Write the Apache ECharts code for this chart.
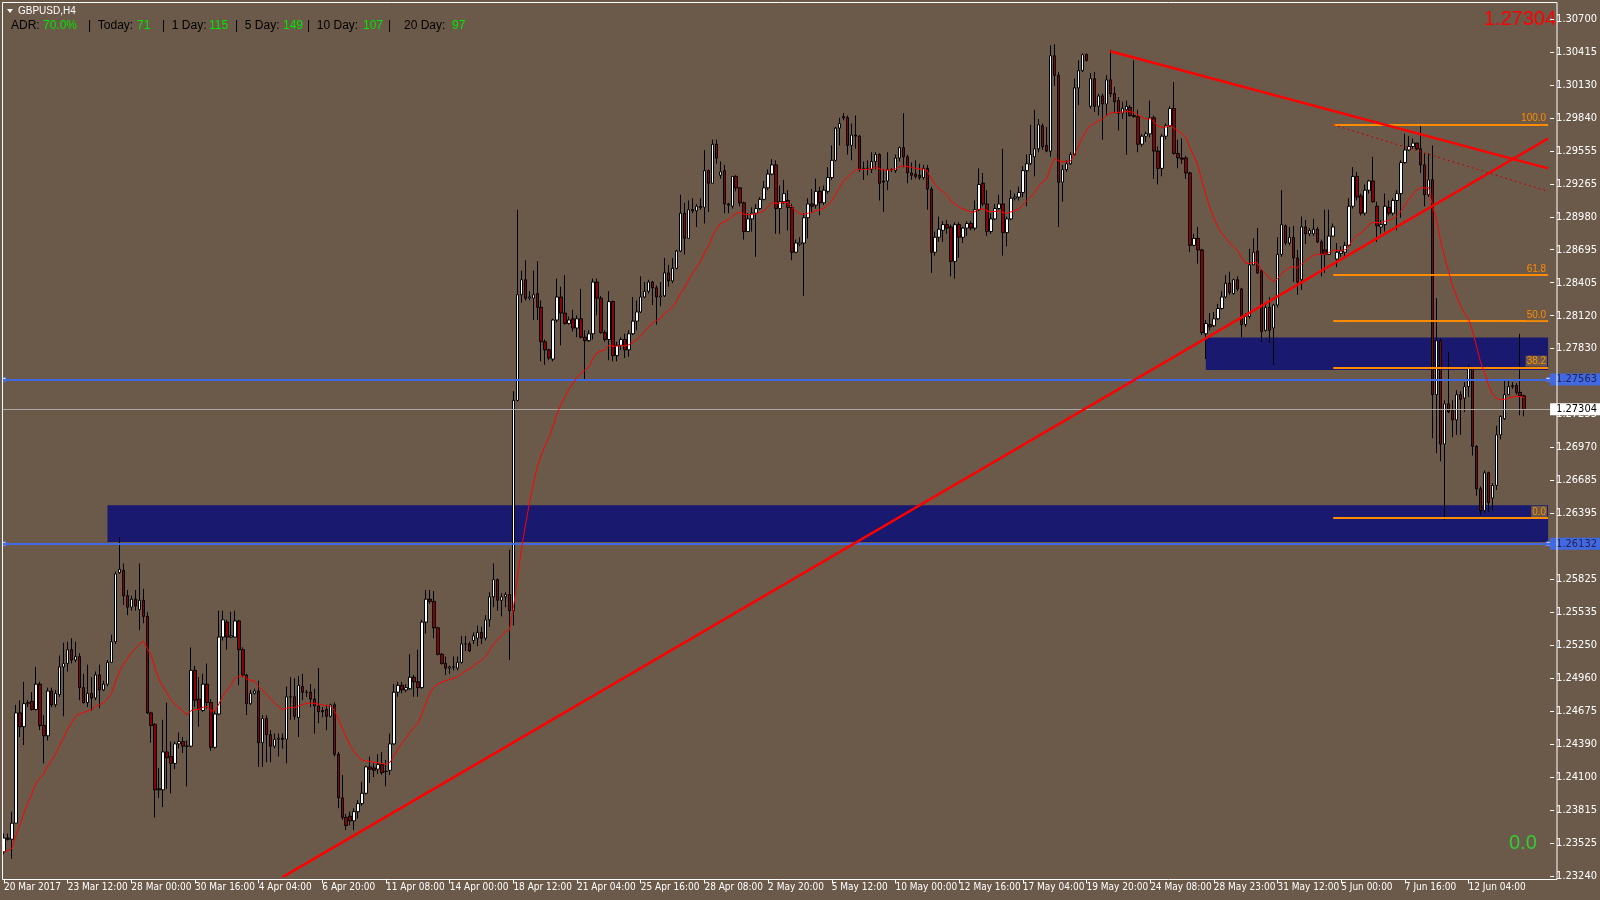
<!DOCTYPE html>
<html><head><meta charset="utf-8">
<script src="https://cdn.jsdelivr.net/npm/echarts@6/dist/echarts.min.js"></script>
<style>html,body{margin:0;padding:0;background:#6b5a4a;overflow:hidden}#c{width:1600px;height:900px}</style>
</head><body><div id="c"></div>
<script>
// ---------------- DATA ----------------
const symbolName = 'GBPUSD,H4';
const xTickLabels = ['20 Mar 2017','23 Mar 12:00','28 Mar 00:00','30 Mar 16:00','4 Apr 04:00','6 Apr 20:00','11 Apr 08:00','14 Apr 00:00','18 Apr 12:00','21 Apr 04:00','25 Apr 16:00','28 Apr 08:00','2 May 20:00','5 May 12:00','10 May 00:00','12 May 16:00','17 May 04:00','19 May 20:00','24 May 08:00','28 May 23:00','31 May 12:00','5 Jun 00:00','7 Jun 16:00','12 Jun 04:00'];
const yTickLabels = ['1.23240','1.23525','1.23815','1.24100','1.24390','1.24675','1.24960','1.25250','1.25535','1.25825','1.26110','1.26395','1.26685','1.26970','1.27255','1.27545','1.27830','1.28120','1.28405','1.28695','1.28980','1.29265','1.29555','1.29840','1.30130','1.30415','1.30700'];

const opens = [
1.2345,1.2357,1.2356,1.2370,1.2466,1.2454,1.2474,1.2476,1.2469,1.2491,
1.2455,1.2446,1.2485,1.2473,1.2482,1.2506,1.2509,1.2521,1.2512,1.2515,
1.2488,1.2475,1.2483,1.2479,1.2499,1.2486,1.2491,1.2510,1.2528,1.2588,
1.2590,1.2568,1.2558,1.2565,1.2556,1.2564,1.2550,1.2466,1.2456,1.2400,
1.2399,1.2432,1.2428,1.2422,1.2439,1.2441,1.2437,1.2437,1.2503,1.2478,
1.2468,1.2491,1.2475,1.2436,1.2465,1.2532,1.2545,1.2532,1.2532,1.2546,
1.2521,1.2499,1.2474,1.2483,1.2485,1.2440,1.2461,1.2447,1.2437,1.2443,
1.2444,1.2443,1.2480,1.2480,1.2462,1.2489,1.2484,1.2484,1.2478,1.2472,
1.2468,1.2469,1.2463,1.2473,1.2430,1.2392,1.2375,1.2376,1.2372,1.2380,
1.2387,1.2396,1.2419,1.2418,1.2417,1.2421,1.2415,1.2416,1.2439,1.2484,
1.2490,1.2486,1.2487,1.2497,1.2493,1.2488,1.2545,1.2565,1.2563,1.2540,
1.2517,1.2509,1.2505,1.2506,1.2505,1.2510,1.2526,1.2526,1.2529,1.2531,
1.2536,1.2531,1.2547,1.2567,1.2582,1.2564,1.2567,1.2569,1.2555,1.2738,
1.2830,1.2843,1.2827,1.2827,1.2831,1.2819,1.2789,1.2782,1.2774,1.2808,
1.2828,1.2814,1.2805,1.2809,1.2801,1.2809,1.2793,1.2790,1.2796,1.2841,
1.2827,1.2797,1.2791,1.2824,1.2777,1.2786,1.2791,1.2782,1.2796,1.2807,
1.2815,1.2828,1.2833,1.2841,1.2836,1.2828,1.2829,1.2849,1.2842,1.2853,
1.2868,1.2901,1.2879,1.2904,1.2903,1.2907,1.2906,1.2938,1.2927,1.2961,
1.2934,1.2938,1.2909,1.2907,1.2933,1.2923,1.2910,1.2885,1.2896,1.2901,
1.2905,1.2913,1.2923,1.2935,1.2943,1.2905,1.2911,1.2912,1.2906,1.2867,
1.2874,1.2875,1.2897,1.2909,1.2908,1.2920,1.2910,1.2920,1.2932,1.2947,
1.2975,1.2985,1.2984,1.2960,1.2969,1.2968,1.2939,1.2940,1.2939,1.2946,
1.2952,1.2929,1.2929,1.2939,1.2938,1.2949,1.2958,1.2950,1.2936,1.2935,
1.2934,1.2932,1.2940,1.2922,1.2867,1.2880,1.2886,1.2891,1.2889,1.2859,
1.2891,1.2880,1.2888,1.2892,1.2888,1.2904,1.2927,1.2909,1.2885,1.2896,
1.2905,1.2909,1.2884,1.2896,1.2914,1.2915,1.2919,1.2938,1.2944,1.2950,
1.2957,1.2977,1.2960,1.2955,1.3038,1.3021,1.2928,1.2939,1.2944,1.2952,
1.3010,1.3025,1.3039,1.2994,1.3018,1.2994,1.3003,1.2996,1.3017,1.3005,
1.2999,1.2988,1.2991,1.2993,1.2986,1.2985,1.2961,1.2968,1.2970,1.2984,
1.2955,1.2940,1.2968,1.2977,1.2992,1.2953,1.2949,1.2949,1.2936,1.2873,
1.2879,1.2869,1.2796,1.2804,1.2803,1.2809,1.2818,1.2828,1.2840,1.2831,
1.2843,1.2835,1.2804,1.2811,1.2856,1.2868,1.2851,1.2799,1.2819,1.2801,
1.2821,1.2865,1.2890,1.2875,1.2880,1.2862,1.2843,1.2889,1.2883,1.2883,
1.2887,1.2876,1.2869,1.2865,1.2881,1.2861,1.2866,1.2867,1.2873,1.2907,
1.2933,1.2916,1.2901,1.2921,1.2929,1.2907,1.2889,1.2891,1.2906,1.2901,
1.2912,1.2918,1.2945,1.2956,1.2959,1.2962,1.2957,1.2943,1.2917,1.2930,
1.2743,1.2790,1.2700,1.2735,1.2729,1.2721,1.2743,1.2740,1.2750,1.2766,
1.2698,1.2661,1.2642,1.2675,1.2653,1.2664,1.2708,1.2722,1.2743,1.2750,
1.2751,1.2745,1.2742];

const highs = [
1.2361,1.2361,1.2380,1.2473,1.2477,1.2493,1.2477,1.2484,1.2506,1.2493,
1.2464,1.2488,1.2488,1.2486,1.2516,1.2527,1.2528,1.2531,1.2528,1.2518,
1.2500,1.2508,1.2497,1.2502,1.2508,1.2494,1.2512,1.2534,1.2589,1.2619,
1.2596,1.2573,1.2568,1.2573,1.2596,1.2574,1.2554,1.2467,1.2457,1.2418,
1.2460,1.2475,1.2441,1.2441,1.2449,1.2445,1.2442,1.2523,1.2507,1.2497,
1.2500,1.2509,1.2478,1.2468,1.2555,1.2555,1.2547,1.2554,1.2555,1.2547,
1.2523,1.2500,1.2486,1.2487,1.2494,1.2464,1.2464,1.2451,1.2448,1.2448,
1.2448,1.2489,1.2497,1.2496,1.2498,1.2500,1.2486,1.2491,1.2487,1.2505,
1.2471,1.2473,1.2474,1.2475,1.2432,1.2412,1.2378,1.2380,1.2383,1.2390,
1.2406,1.2420,1.2428,1.2422,1.2430,1.2432,1.2425,1.2448,1.2491,1.2493,
1.2493,1.2491,1.2517,1.2499,1.2521,1.2547,1.2573,1.2573,1.2572,1.2541,
1.2518,1.2515,1.2507,1.2515,1.2515,1.2533,1.2533,1.2528,1.2536,1.2542,
1.2541,1.2551,1.2571,1.2596,1.2583,1.2570,1.2571,1.2608,1.2746,1.2904,
1.2851,1.2860,1.2833,1.2851,1.2859,1.2825,1.2791,1.2783,1.2809,1.2844,
1.2837,1.2847,1.2811,1.2817,1.2812,1.2835,1.2799,1.2799,1.2844,1.2844,
1.2829,1.2799,1.2833,1.2825,1.2789,1.2793,1.2796,1.2799,1.2828,1.2825,
1.2846,1.2841,1.2843,1.2842,1.2838,1.2841,1.2862,1.2856,1.2862,1.2869,
1.2917,1.2910,1.2912,1.2914,1.2909,1.2914,1.2956,1.2939,1.2965,1.2965,
1.2946,1.2943,1.2910,1.2933,1.2934,1.2923,1.2911,1.2901,1.2906,1.2909,
1.2915,1.2929,1.2939,1.2948,1.2947,1.2925,1.2930,1.2921,1.2909,1.2878,
1.2880,1.2901,1.2914,1.2922,1.2931,1.2924,1.2925,1.2941,1.2960,1.2976,
1.2984,1.2988,1.2986,1.2979,1.2986,1.2969,1.2946,1.2947,1.2954,1.2954,
1.2953,1.2939,1.2954,1.2940,1.2952,1.2959,1.2988,1.2952,1.2945,1.2947,
1.2944,1.2943,1.2943,1.2924,1.2885,1.2898,1.2894,1.2895,1.2891,1.2893,
1.2893,1.2889,1.2894,1.2894,1.2912,1.2940,1.2936,1.2921,1.2901,1.2909,
1.2917,1.2957,1.2898,1.2921,1.2918,1.2924,1.2942,1.2952,1.2978,1.2991,
1.2983,1.2979,1.2976,1.3047,1.3048,1.3024,1.2943,1.2947,1.2954,1.3018,
1.3034,1.3040,1.3040,1.3023,1.3024,1.3005,1.3005,1.3021,1.3043,1.3011,
1.3002,1.2998,1.2999,1.2995,1.3034,1.2991,1.2970,1.2972,1.2999,1.2986,
1.2959,1.2970,1.2979,1.2994,1.3015,1.2965,1.2966,1.2951,1.2937,1.2883,
1.2889,1.2870,1.2808,1.2814,1.2815,1.2822,1.2833,1.2847,1.2850,1.2844,
1.2846,1.2836,1.2814,1.2870,1.2879,1.2888,1.2852,1.2822,1.2828,1.2822,
1.2880,1.2921,1.2891,1.2889,1.2890,1.2869,1.2898,1.2895,1.2888,1.2896,
1.2889,1.2878,1.2904,1.2904,1.2892,1.2875,1.2872,1.2876,1.2914,1.2941,
1.2937,1.2918,1.2926,1.2930,1.2950,1.2911,1.2895,1.2918,1.2912,1.2914,
1.2921,1.2947,1.2970,1.2968,1.2966,1.2962,1.2978,1.2953,1.2953,1.2960,
1.2827,1.2792,1.2738,1.2780,1.2738,1.2747,1.2746,1.2754,1.2769,1.2767,
1.2699,1.2663,1.2677,1.2676,1.2666,1.2716,1.2725,1.2755,1.2756,1.2754,
1.2753,1.2796,1.2743];

const lows = [
1.2343,1.2355,1.2339,1.2370,1.2445,1.2438,1.2471,1.2468,1.2468,1.2451,
1.2422,1.2442,1.2471,1.2471,1.2480,1.2463,1.2502,1.2509,1.2510,1.2477,
1.2474,1.2471,1.2468,1.2477,1.2470,1.2485,1.2489,1.2510,1.2526,1.2587,
1.2560,1.2551,1.2555,1.2555,1.2538,1.2544,1.2465,1.2440,1.2375,1.2392,
1.2384,1.2400,1.2396,1.2417,1.2435,1.2431,1.2402,1.2436,1.2471,1.2454,
1.2467,1.2470,1.2433,1.2435,1.2464,1.2529,1.2521,1.2531,1.2532,1.2490,
1.2497,1.2464,1.2473,1.2482,1.2419,1.2419,1.2423,1.2423,1.2435,1.2428,
1.2435,1.2422,1.2460,1.2460,1.2445,1.2477,1.2480,1.2471,1.2448,1.2457,
1.2462,1.2451,1.2462,1.2428,1.2383,1.2373,1.2364,1.2368,1.2364,1.2374,
1.2385,1.2395,1.2405,1.2410,1.2413,1.2412,1.2402,1.2412,1.2438,1.2480,
1.2483,1.2484,1.2486,1.2480,1.2480,1.2487,1.2535,1.2561,1.2531,1.2516,
1.2508,1.2499,1.2500,1.2503,1.2503,1.2509,1.2520,1.2519,1.2526,1.2524,
1.2526,1.2529,1.2541,1.2558,1.2555,1.2550,1.2558,1.2512,1.2542,1.2737,
1.2823,1.2825,1.2825,1.2808,1.2808,1.2772,1.2769,1.2773,1.2772,1.2806,
1.2786,1.2804,1.2804,1.2798,1.2793,1.2792,1.2756,1.2789,1.2791,1.2812,
1.2796,1.2789,1.2773,1.2772,1.2772,1.2782,1.2775,1.2776,1.2795,1.2799,
1.2814,1.2827,1.2831,1.2821,1.2804,1.2820,1.2828,1.2837,1.2840,1.2852,
1.2867,1.2865,1.2879,1.2901,1.2889,1.2904,1.2892,1.2902,1.2927,1.2944,
1.2931,1.2901,1.2901,1.2905,1.2920,1.2907,1.2878,1.2885,1.2885,1.2863,
1.2904,1.2912,1.2921,1.2934,1.2883,1.2883,1.2909,1.2886,1.2860,1.2866,
1.2872,1.2829,1.2879,1.2901,1.2905,1.2899,1.2908,1.2918,1.2930,1.2946,
1.2960,1.2982,1.2952,1.2947,1.2957,1.2937,1.2930,1.2934,1.2936,1.2939,
1.2912,1.2902,1.2921,1.2937,1.2936,1.2946,1.2941,1.2927,1.2930,1.2931,
1.2930,1.2930,1.2904,1.2849,1.2864,1.2876,1.2876,1.2883,1.2846,1.2844,
1.2862,1.2875,1.2881,1.2886,1.2886,1.2903,1.2907,1.2881,1.2883,1.2895,
1.2904,1.2864,1.2872,1.2895,1.2912,1.2912,1.2915,1.2907,1.2943,1.2933,
1.2954,1.2956,1.2954,1.2950,1.3012,1.2889,1.2911,1.2937,1.2943,1.2951,
1.2995,1.3024,1.3033,1.2992,1.2989,1.2986,1.2965,1.2986,1.3002,1.2988,
1.2973,1.2983,1.2952,1.2985,1.2984,1.2954,1.2959,1.2963,1.2967,1.2931,
1.2926,1.2933,1.2965,1.2976,1.2952,1.2940,1.2944,1.2931,1.2867,1.2872,
1.2857,1.2795,1.2774,1.2799,1.2802,1.2808,1.2817,1.2827,1.2830,1.2830,
1.2833,1.2793,1.2802,1.2809,1.2856,1.2848,1.2789,1.2798,1.2788,1.2769,
1.2819,1.2863,1.2873,1.2873,1.2841,1.2830,1.2834,1.2874,1.2881,1.2881,
1.2875,1.2846,1.2849,1.2865,1.2881,1.2854,1.2863,1.2863,1.2872,1.2905,
1.2912,1.2899,1.2899,1.2918,1.2910,1.2876,1.2883,1.2885,1.2899,1.2899,
1.2886,1.2897,1.2944,1.2955,1.2957,1.2956,1.2936,1.2907,1.2915,1.2705,
1.2692,1.2685,1.2634,1.2727,1.2706,1.2708,1.2708,1.2728,1.2741,1.2690,
1.2655,1.2638,1.2640,1.2641,1.2642,1.2660,1.2704,1.2721,1.2743,1.2748,
1.2743,1.2725,1.2724];

const closes = [
1.2357,1.2356,1.2370,1.2466,1.2454,1.2474,1.2475,1.2469,1.2491,1.2455,
1.2446,1.2485,1.2473,1.2483,1.2506,1.2509,1.2521,1.2512,1.2515,1.2488,
1.2475,1.2483,1.2479,1.2499,1.2486,1.2491,1.2510,1.2528,1.2587,1.2591,
1.2568,1.2558,1.2565,1.2559,1.2564,1.2550,1.2466,1.2455,1.2399,1.2399,
1.2432,1.2427,1.2422,1.2439,1.2441,1.2437,1.2437,1.2503,1.2477,1.2469,
1.2491,1.2475,1.2436,1.2465,1.2532,1.2547,1.2532,1.2533,1.2546,1.2521,
1.2499,1.2474,1.2483,1.2485,1.2440,1.2461,1.2447,1.2437,1.2443,1.2444,
1.2443,1.2480,1.2480,1.2463,1.2490,1.2484,1.2484,1.2478,1.2472,1.2467,
1.2467,1.2463,1.2473,1.2430,1.2392,1.2375,1.2368,1.2372,1.2380,1.2387,
1.2396,1.2419,1.2417,1.2416,1.2421,1.2414,1.2415,1.2439,1.2484,1.2490,
1.2486,1.2488,1.2497,1.2493,1.2488,1.2545,1.2565,1.2563,1.2540,1.2517,
1.2509,1.2505,1.2506,1.2506,1.2510,1.2526,1.2526,1.2520,1.2533,1.2536,
1.2531,1.2547,1.2567,1.2582,1.2564,1.2567,1.2569,1.2555,1.2738,1.2830,
1.2843,1.2827,1.2828,1.2830,1.2819,1.2789,1.2782,1.2775,1.2808,1.2828,
1.2814,1.2805,1.2808,1.2801,1.2809,1.2793,1.2790,1.2796,1.2841,1.2827,
1.2797,1.2791,1.2824,1.2777,1.2786,1.2791,1.2782,1.2796,1.2807,1.2815,
1.2828,1.2833,1.2841,1.2836,1.2828,1.2829,1.2849,1.2842,1.2853,1.2868,
1.2901,1.2879,1.2904,1.2903,1.2907,1.2906,1.2938,1.2927,1.2961,1.2949,
1.2937,1.2909,1.2908,1.2933,1.2923,1.2910,1.2885,1.2896,1.2901,1.2905,
1.2913,1.2923,1.2935,1.2943,1.2905,1.2911,1.2918,1.2906,1.2867,1.2875,
1.2875,1.2897,1.2909,1.2907,1.2920,1.2910,1.2921,1.2932,1.2947,1.2975,
1.2979,1.2984,1.2960,1.2969,1.2968,1.2939,1.2940,1.2940,1.2946,1.2952,
1.2927,1.2928,1.2939,1.2939,1.2949,1.2958,1.2950,1.2936,1.2934,1.2933,
1.2932,1.2940,1.2922,1.2867,1.2880,1.2887,1.2891,1.2888,1.2859,1.2891,
1.2880,1.2888,1.2892,1.2888,1.2904,1.2926,1.2909,1.2885,1.2896,1.2905,
1.2909,1.2884,1.2896,1.2914,1.2915,1.2919,1.2938,1.2944,1.2952,1.2957,
1.2978,1.2959,1.2955,1.3038,1.3021,1.2928,1.2939,1.2944,1.2952,1.3010,
1.3025,1.3039,1.3034,1.3018,1.2994,1.3003,1.2996,1.3017,1.3005,1.2998,
1.2988,1.2992,1.2994,1.2986,1.2985,1.2961,1.2968,1.2970,1.2984,1.2955,
1.2940,1.2968,1.2977,1.2992,1.2953,1.2949,1.2948,1.2936,1.2873,1.2879,
1.2869,1.2797,1.2805,1.2802,1.2809,1.2818,1.2828,1.2840,1.2832,1.2843,
1.2835,1.2804,1.2811,1.2856,1.2867,1.2849,1.2798,1.2819,1.2799,1.2821,
1.2865,1.2891,1.2875,1.2880,1.2862,1.2841,1.2889,1.2883,1.2886,1.2887,
1.2876,1.2865,1.2865,1.2881,1.2889,1.2867,1.2868,1.2873,1.2907,1.2933,
1.2915,1.2901,1.2921,1.2929,1.2911,1.2890,1.2891,1.2907,1.2901,1.2912,
1.2918,1.2945,1.2956,1.2959,1.2962,1.2957,1.2943,1.2917,1.2930,1.2743,
1.2790,1.2700,1.2735,1.2728,1.2721,1.2743,1.2739,1.2750,1.2766,1.2698,
1.2661,1.2642,1.2675,1.2649,1.2664,1.2708,1.2724,1.2743,1.2750,1.2751,
1.2745,1.2742,1.2730];

const maStart = 1.2345;      // MA value read at the first visible bar
const maPeriod = 20;         // exponential moving average period
const lastPrice = 1.27304;
const blueLevels = [1.27563, 1.26132];
const zones = [[26, 1.26468, 1.26148], [302, 1.27928, 1.27644]]; // [start bar, top, bottom]
const fibStartBar = 334, fibHigh = 1.29780, fibLow = 1.26357;
const fibRatios = [1, 0.618, 0.5, 0.382, 0];
const fibLabels = ['100.0', '61.8', '50.0', '38.2', '0.0'];
const downTrend = [[278, 1.3042], [388, 1.2940]];
const upTrend = [[70, 1.2323], [388, 1.2966]];
const fibTrend = [[334, 1.2978], [388, 1.2920]];
const adrNames = ['ADR:', '|  Today:', '|  1 Day:', '|  5 Day:', '|  10 Day:', '|', '20 Day:'];
const adrValues = ['70.0%', '71', '115', '149', '107', '', '97'];
const bigPriceText = '1.27304';
const bottomText = '0.0';

// ---------------- LAYOUT ----------------
const TOTAL_SLOTS = 389;           // bars + empty right shift
const LAST_SLOT = TOTAL_SLOTS - 1;
const LABEL_EVERY = 16;
const Y_MIN = 1.2324, Y_MAX = 1.30848;
const Y_STEP = (1.30700 - 1.23240) / 26;
const BG = '#6b5a4a';
const NARROW = "'Liberation Sans Narrow','DejaVu Sans Condensed','Liberation Sans',sans-serif";
const SANS = "'Liberation Sans',Arial,sans-serif";
const adrNameX = [11, 88, 162, 235, 307, 388, 404];
const adrValueX = [43, 137, 209, 283, 363, 0, 452];

const cats = [];
for (let i = 0; i < TOTAL_SLOTS; i++) cats.push(String(i));
const candles = opens.map((o, i) => [o, closes[i], lows[i], highs[i]]);
const k = 2 / (maPeriod + 1);
const ma = [];
let prev = maStart;
for (let i = 0; i < closes.length; i++) {
  if (i > 0) prev = prev + k * (closes[i] - prev);
  ma.push(+prev.toFixed(5));
}
const showTick = (idx) => idx % LABEL_EVERY === 0 && idx / LABEL_EVERY < xTickLabels.length;
const handles = [];
blueLevels.forEach(p => { handles.push([0, p]); handles.push([LAST_SLOT, p]); });

const graphic = [
  { type: 'rect', silent: true, z: 100, shape: { x: 2.5, y: 2.5, width: 1554.5, height: 877 }, style: { fill: 'none', stroke: '#ffffff', lineWidth: 1 } },
  { type: 'polygon', silent: true, shape: { points: [[7, 9], [13, 9], [10, 13]] }, style: { fill: '#ffffff' } },
  { type: 'text', silent: true, x: 18, y: 11, style: { text: symbolName, fill: '#ffffff', font: '10px ' + SANS, verticalAlign: 'middle' } },
  { type: 'text', silent: true, x: 1556, y: 19, style: { text: bigPriceText, fill: '#ff0000', font: '20px ' + SANS, align: 'right', verticalAlign: 'middle' } },
  { type: 'text', silent: true, x: 1509, y: 843, style: { text: bottomText, fill: '#32cd32', font: '20px ' + SANS, verticalAlign: 'middle' } }
];
adrNames.forEach((n, i) => {
  graphic.push({ type: 'text', silent: true, x: adrNameX[i], y: 26, style: { text: n, fill: '#000000', font: '12px ' + SANS, verticalAlign: 'middle' } });
  if (adrValues[i]) graphic.push({ type: 'text', silent: true, x: adrValueX[i], y: 26, style: { text: adrValues[i], fill: '#00e600', font: '12px ' + SANS, verticalAlign: 'middle' } });
});

const chart = echarts.init(document.getElementById('c'), null, { renderer: 'canvas' });
chart.setOption({
  animation: false,
  backgroundColor: BG,
  grid: { left: 2, right: 43, top: 2, bottom: 24 },
  xAxis: {
    type: 'category', data: cats, boundaryGap: true, offset: 3.5,
    axisLine: { show: false },
    axisTick: { show: true, alignWithLabel: true, interval: showTick, length: 4, lineStyle: { color: '#ffffff' } },
    axisLabel: { interval: showTick, formatter: (v) => xTickLabels[Number(v) / LABEL_EVERY] || '', color: '#ffffff', fontSize: 10, fontFamily: NARROW, align: 'left', margin: 3 },
    splitLine: { show: false }
  },
  yAxis: {
    type: 'value', position: 'right', min: Y_MIN, max: Y_MAX, interval: Y_STEP,
    axisLine: { show: false },
    axisTick: { show: true, length: 4, lineStyle: { color: '#ffffff' } },
    axisLabel: {
      color: '#ffffff', fontSize: 11, fontFamily: NARROW, margin: 6, showMaxLabel: false,
      formatter: (v) => { const j = Math.round((v - Y_MIN) / Y_STEP); return (Math.abs(v - (Y_MIN + j * Y_STEP)) < Y_STEP * 0.01 && yTickLabels[j]) ? yTickLabels[j] : ''; }
    },
    splitLine: { show: false }
  },
  graphic: graphic,
  series: [
    { name: 'zones', type: 'line', data: [], z: 1, silent: true,
      markArea: { silent: true, itemStyle: { color: '#191970' },
        data: zones.map(zn => [{ xAxis: zn[0], yAxis: zn[1] }, { xAxis: LAST_SLOT, yAxis: zn[2] }]) } },
    { name: 'levels', type: 'line', data: [], z: 2, silent: true,
      markLine: { silent: true, precision: 5, symbol: ['none', 'none'],
        data: blueLevels.map(p => ({ yAxis: p, lineStyle: { color: '#4169e1', width: 2, type: 'solid' },
          label: { show: true, position: 'end', distance: 0, formatter: p.toFixed(5), backgroundColor: '#4169e1', color: '#23234f', padding: [1, 4, 0, 6], fontSize: 11, fontFamily: NARROW } }))
          .concat([{ yAxis: lastPrice, lineStyle: { color: '#a8a8a8', width: 1, type: 'solid' },
          label: { show: true, position: 'end', distance: 0, formatter: lastPrice.toFixed(5), backgroundColor: '#ffffff', color: '#000000', padding: [1, 4, 0, 6], fontSize: 11, fontFamily: NARROW } }]) } },
    { name: 'fib', type: 'line', data: [], z: 3, silent: true,
      markLine: { silent: true, precision: 5, symbol: ['none', 'none'],
        data: fibRatios.map((r, j) => { const p = +(fibLow + r * (fibHigh - fibLow)).toFixed(5); return [
          { coord: [fibStartBar, p], lineStyle: { color: '#ff8c00', width: 2, type: 'solid' },
            label: { show: true, position: 'insideEndTop', distance: 1, formatter: fibLabels[j], color: '#ff8c00', backgroundColor: BG, padding: [1, 1, 0, 1], fontSize: 10, fontFamily: SANS } },
          { coord: [LAST_SLOT, p] }]; }) } },
    { name: 'handles', type: 'scatter', z: 3, data: handles, symbol: 'rect', symbolSize: 4, silent: true,
      itemStyle: { color: '#ffffff', borderColor: '#4169e1', borderWidth: 1 } },
    { name: symbolName, type: 'candlestick', z: 4, data: candles, barWidth: 3,
      itemStyle: { color: '#ffffff', color0: '#8b0000', borderColor: '#000000', borderColor0: '#000000', borderWidth: 1 } },
    { name: 'down', type: 'line', z: 5, data: downTrend, symbol: 'none', lineStyle: { color: '#ff0000', width: 2.5 }, silent: true },
    { name: 'up', type: 'line', z: 5, data: upTrend, symbol: 'none', lineStyle: { color: '#ff0000', width: 2.5 }, silent: true },
    { name: 'fibTrend', type: 'line', z: 5, data: fibTrend, symbol: 'none', lineStyle: { color: '#c00000', width: 1, type: [2, 3] }, silent: true },
    { name: 'MA', type: 'line', z: 6, data: ma, symbol: 'none', lineStyle: { color: '#ff0000', width: 1 }, silent: true }
  ]
});
</script>
</body></html>
